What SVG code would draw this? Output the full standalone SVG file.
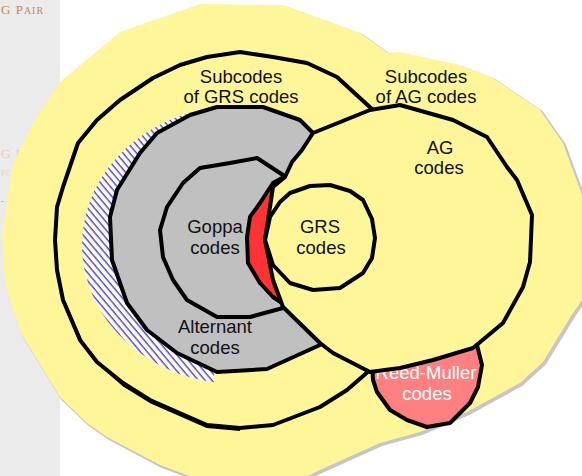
<svg xmlns="http://www.w3.org/2000/svg" width="582" height="476" viewBox="0 0 582 476">
  <style>
    .ring { stroke: #000; stroke-width: 4; stroke-linejoin: round; stroke-linecap: round; }
    .yellow { fill: #fff69a; }
    .lbl { font-family: "Liberation Sans", Arial, sans-serif; font-size: 18.5px; fill: #111; text-anchor: middle; }
    .lbl-w { fill: #fff; }
    .side { font-family: "Liberation Serif", "Times New Roman", serif; }
  </style>
  <defs>
    <pattern id="hatch" patternUnits="userSpaceOnUse" width="5.2" height="12" patternTransform="rotate(-40)">
      <rect width="5.2" height="12" fill="#fffbe0"/>
      <line x1="1" y1="0" x2="1" y2="12" stroke="#0000ff" stroke-width="1"/>
    </pattern>
    <clipPath id="hatchClip">
      <rect x="0" y="0" width="214" height="476"/>
    </clipPath>
  </defs>

  <!-- page background and side strip -->
  <rect width="582" height="476" fill="#fff"/>
  <g id="side-strip">
    <rect x="0" y="0" width="60" height="476" fill="#ebebeb"/>
    <text class="side" x="1" y="14" font-size="13" fill="#c8874e" letter-spacing="1">G P<tspan font-size="10">AIR</tspan></text>
    <text class="side" x="1" y="158" font-size="13" fill="#e6cfb8" letter-spacing="1">G P<tspan font-size="10">A</tspan></text>
    <text class="side" x="1" y="176" font-size="8" fill="#e8d4c2">FC</text>
    <text class="side" x="1" y="204" font-size="9" fill="#d9905a">-</text>
  </g>

  <!-- Subcodes of AG codes: outer background region -->
  <g id="subcodes-ag">
    <polygon transform="translate(2,2)" fill="#c6c6c6" stroke="#c6c6c6" stroke-width="2"
      points="2,235 12,167 32,124 60,82 120,32 200,4 283,5 360,33 388,53 400,52 460,65 493,78 540,110 563,143 582,195 582,300 573,313 543,362 520,383 467,412 420,432 380,443 320,470 300,480 200,480 160,465 107,437 87,423 60,397 22,335 5,285"/>
    <polygon class="yellow"
      points="2,235 12,167 32,124 60,82 120,32 200,4 283,5 360,33 388,53 400,52 460,65 493,78 540,110 563,143 582,195 582,300 573,313 543,362 520,383 467,412 420,432 380,443 320,470 300,480 200,480 160,465 107,437 87,423 60,397 22,335 5,285"/>
    <text class="lbl" x="426" y="83">Subcodes</text>
    <text class="lbl" x="426" y="103">of AG codes</text>
  </g>

  <!-- Subcodes of GRS codes -->
  <g id="subcodes-grs">
    <polyline class="ring" fill="none"
      points="373,110 337,77 307,63 273,57 240,52 207,57 180,65 153,78 120,100 97,120 78,143 63,187 57,207 55,240 57,270 63,300 80,340 97,362 123,383 150,400 207,425 240,428 273,425 320,407 347,390 370,370"/>
    <polyline fill="none" stroke="#000" stroke-width="2" stroke-linejoin="round"
      points="65,303 82,342 99,364 124,386 150,402 207,427 240,430"/>
    <text class="lbl" x="241" y="83">Subcodes</text>
    <text class="lbl" x="241" y="103">of GRS codes</text>
  </g>

  <!-- hatched band left of the alternant codes -->
  <g id="hatched-band" clip-path="url(#hatchClip)">
    <ellipse cx="238" cy="245" rx="156" ry="139" fill="url(#hatch)"/>
  </g>

  <!-- Alternant codes -->
  <g id="alternant">
    <polygon class="ring" fill="#c0c0c0"
      points="157,133 190,115 217,107 263,107 300,120 313,133 340,180 350,240 340,300 320,345 267,369 217,372 177,353 147,330 127,303 112,260 110,217 117,190 140,153"/>
    <text class="lbl" x="215" y="333">Alternant</text>
    <text class="lbl" x="215" y="354">codes</text>
  </g>

  <!-- Goppa codes -->
  <g id="goppa">
    <polygon class="ring" fill="#c0c0c0"
      points="200,168 230,163 257,158 283,175 300,200 305,240 300,280 283,308 250,317 217,317 187,300 173,280 163,257 160,230 167,207 183,183"/>
    <text class="lbl" x="215" y="233">Goppa</text>
    <text class="lbl" x="215" y="254">codes</text>
  </g>

  <!-- red region between Goppa and GRS -->
  <g id="red-region">
    <polygon class="ring" fill="#ff3333" stroke-width="3.5"
      points="282,178 273,183 260,203 250,217 247,237 248,263 260,283 273,297 282,303 300,312 330,312 370,290 390,240 370,190 330,168 300,170"/>
  </g>

  <!-- Reed-Muller codes -->
  <g id="reed-muller">
    <polygon class="ring" fill="#ff8080"
      points="372,364 373,380 377,392 390,410 407,420 427,427 450,423 470,403 478,387 482,365 477,345 450,335 410,340 380,352"/>
    <text class="lbl lbl-w" x="426" y="379">Reed-Muller</text>
    <text class="lbl lbl-w" x="427" y="400">codes</text>
  </g>

  <!-- AG codes -->
  <g id="ag">
    <polygon class="ring yellow"
      points="313,133 370,110 400,105 453,120 487,137 507,167 517,180 532,215 530,262 523,287 503,323 473,348 433,360 400,368 370,372 333,353 320,343 283,307 273,280 265,240 270,207 273,187 285,177 292,162 302,150"/>
    <text class="lbl" x="440" y="154">AG</text>
    <text class="lbl" x="439" y="174">codes</text>
  </g>

  <!-- GRS codes -->
  <g id="grs">
    <polygon class="ring yellow" stroke-width="3.5"
      points="265,240 270,217 280,202 290,193 310,186 330,185 350,191 363,200 372,219 375,238 372,258 363,273 340,288 313,290 290,283 273,265"/>
    <text class="lbl" x="320" y="233">GRS</text>
    <text class="lbl" x="321" y="254">codes</text>
  </g>

  <g id="connectors"/>
</svg>
